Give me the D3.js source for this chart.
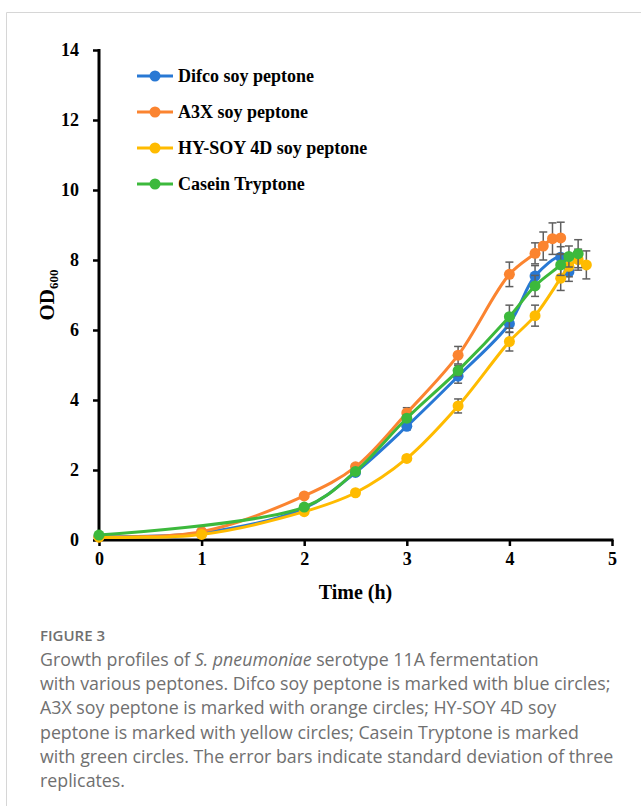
<!DOCTYPE html>
<html>
<head>
<meta charset="utf-8">
<script src="https://cdn.jsdelivr.net/npm/d3@7"></script>
<style>
  body { margin: 0; background: #fff; }
  svg { display: block; }
</style>
</head>
<body>
<div id="svg"></div>
<script>
// series data (OD600 vs time in h, with SD)
var seriesNames = ["Difco soy peptone", "A3X soy peptone", "HY-SOY 4D soy peptone", "Casein Tryptone"];
var seriesColors = ["#2878d4", "#fb8430", "#ffbb00", "#3cb93c"];

var difcoTime = [0, 1, 2, 2.5, 3, 3.5, 4, 4.25, 4.5, 4.58];
var difcoOD   = [0.10, 0.20, 0.91, 1.93, 3.25, 4.68, 6.18, 7.54, 8.08, 7.66];
var difcoSD   = [0.02, 0.03, 0.05, 0.06, 0.10, 0.20, 0.25, 0.30, 0.30, 0.27];

var a3xTime = [0, 1, 2, 2.5, 3, 3.5, 4, 4.25, 4.33, 4.42, 4.5];
var a3xOD   = [0.09, 0.24, 1.26, 2.09, 3.63, 5.28, 7.59, 8.19, 8.40, 8.61, 8.63];
var a3xSD   = [0.02, 0.03, 0.05, 0.08, 0.15, 0.25, 0.35, 0.30, 0.40, 0.45, 0.45];

var hysoyTime = [0, 1, 2, 2.5, 3, 3.5, 4, 4.25, 4.5, 4.58, 4.67, 4.75];
var hysoyOD   = [0.08, 0.16, 0.81, 1.35, 2.33, 3.83, 5.67, 6.41, 7.48, 7.82, 8.01, 7.86];
var hysoySD   = [0.02, 0.03, 0.05, 0.06, 0.08, 0.20, 0.27, 0.30, 0.35, 0.30, 0.30, 0.40];

var caseinTime = [0, 2, 2.5, 3, 3.5, 4, 4.25, 4.5, 4.58, 4.67];
var caseinOD   = [0.14, 0.94, 1.96, 3.48, 4.84, 6.38, 7.26, 7.86, 8.10, 8.18];
var caseinSD   = [0.02, 0.05, 0.06, 0.10, 0.15, 0.33, 0.30, 0.30, 0.30, 0.40];

var xTicks = [0, 1, 2, 3, 4, 5];
var yTicks = [0, 2, 4, 6, 8, 10, 12, 14];

var captionLines = [
  ["Growth profiles of ", "S. pneumoniae", " serotype 11A fermentation"],
  ["with various peptones. Difco soy peptone is marked with blue circles;"],
  ["A3X soy peptone is marked with orange circles; HY-SOY 4D soy"],
  ["peptone is marked with yellow circles; Casein Tryptone is marked"],
  ["with green circles. The error bars indicate standard deviation of three"],
  ["replicates."]
];

function zip(t, v, s) {
  return t.map(function (d, i) { return {t: d, od: v[i], sd: s[i]}; });
}
var allSeries = [
  zip(difcoTime, difcoOD, difcoSD),
  zip(a3xTime, a3xOD, a3xSD),
  zip(hysoyTime, hysoyOD, hysoySD),
  zip(caseinTime, caseinOD, caseinSD)
];

var W = 641, H = 806;
var svg = d3.select("#svg").append("svg")
    .attr("width", W)
    .attr("height", H);

// light frame around the figure
svg.append("path")
  .attr("d", "M6.5," + H + " L6.5,12.5 L" + W + ",12.5")
  .style("fill", "none")
  .style("stroke", "#d6d6d6")
  .style("stroke-width", 1);

var x = d3.scaleLinear().domain([0, 5]).range([99, 612]);
var y = d3.scaleLinear().domain([0, 14]).range([540, 50]);

var serif = "'Liberation Serif', 'Times New Roman', serif";

// X axis
var xAxis = svg.append("g")
  .attr("transform", "translate(0," + y(0) + ")");
xAxis.call(d3.axisBottom(x).tickValues(d3.range(0, 5.01, 0.2)).tickSize(5).tickFormat(""));
xAxis.call(d3.axisBottom(x).tickValues(xTicks).tickSize(6).tickPadding(6).tickFormat(d3.format("d")));
xAxis.selectAll("path.domain").style("stroke-width", 3).attr("d", "M" + (x(0) - 1.5) + ",0H" + (x(5) + 1.5));
xAxis.selectAll(".tick line").style("stroke-width", 2.5);
xAxis.selectAll("text").style("font-family", serif).style("font-weight", "bold").style("font-size", "18px").style("fill", "#000");

// Y axis
var yAxis = svg.append("g")
  .attr("transform", "translate(" + x(0) + ",0)");
yAxis.call(d3.axisLeft(y).tickValues(d3.range(0, 14.01, 0.4)).tickSize(5).tickFormat(""));
yAxis.call(d3.axisLeft(y).tickValues(yTicks).tickSize(6).tickPadding(14).tickFormat(d3.format("d")));
yAxis.selectAll("path.domain").style("stroke-width", 3).attr("d", "M0," + (y(14) - 1) + "V" + (y(0) + 1.5));
yAxis.selectAll(".tick line").style("stroke-width", 2.5);
yAxis.selectAll("text").style("font-family", serif).style("font-weight", "bold").style("font-size", "18px").style("fill", "#000");

// axis titles
svg.append("text")
  .attr("x", (x(0) + x(5)) / 2)
  .attr("y", 599)
  .attr("text-anchor", "middle")
  .style("font-family", serif)
  .style("font-weight", "bold")
  .style("font-size", "20px")
  .text("Time (h)");

var yt = svg.append("text")
  .attr("transform", "translate(54,295) rotate(-90)")
  .attr("text-anchor", "middle")
  .style("font-family", serif)
  .style("font-weight", "bold")
  .style("font-size", "21px");
yt.append("tspan").text("OD");
yt.append("tspan").attr("dy", 4).style("font-size", "13px").text("600");

// error bars, lines, markers
var line = d3.line()
  .x(function (d) { return x(d.t); })
  .y(function (d) { return y(d.od); })
  .curve(d3.curveCatmullRom.alpha(0.5));

allSeries.forEach(function (data, i) {
  var g = svg.append("g");
  var eb = g.selectAll("g.eb").data(data).enter().append("g")
    .style("stroke", "#5f5f5f")
    .style("stroke-width", 1.5);
  eb.append("line")
    .attr("x1", function (d) { return x(d.t); })
    .attr("x2", function (d) { return x(d.t); })
    .attr("y1", function (d) { return y(d.od - d.sd); })
    .attr("y2", function (d) { return y(d.od + d.sd); });
  eb.append("line")
    .attr("x1", function (d) { return x(d.t) - 4; })
    .attr("x2", function (d) { return x(d.t) + 4; })
    .attr("y1", function (d) { return y(d.od + d.sd); })
    .attr("y2", function (d) { return y(d.od + d.sd); });
  eb.append("line")
    .attr("x1", function (d) { return x(d.t) - 4; })
    .attr("x2", function (d) { return x(d.t) + 4; })
    .attr("y1", function (d) { return y(d.od - d.sd); })
    .attr("y2", function (d) { return y(d.od - d.sd); });

  g.append("path")
    .datum(data)
    .attr("d", line)
    .style("fill", "none")
    .style("stroke", seriesColors[i])
    .style("stroke-width", 3);

  g.selectAll("circle").data(data).enter().append("circle")
    .attr("cx", function (d) { return x(d.t); })
    .attr("cy", function (d) { return y(d.od); })
    .attr("r", 5.5)
    .style("fill", seriesColors[i]);
});

// legend
var legend = svg.append("g");
seriesNames.forEach(function (name, i) {
  var ly = 76 + i * 36;
  legend.append("line")
    .attr("x1", 137).attr("x2", 173)
    .attr("y1", ly).attr("y2", ly)
    .style("stroke", seriesColors[i])
    .style("stroke-width", 3);
  legend.append("circle")
    .attr("cx", 155).attr("cy", ly).attr("r", 5.5)
    .style("fill", seriesColors[i]);
  legend.append("text")
    .attr("x", 178).attr("y", ly + 6)
    .style("font-family", serif)
    .style("font-weight", "bold")
    .style("font-size", "18px")
    .text(name);
});

// caption
var sans = "'Open Sans', 'Noto Sans', sans-serif";
svg.append("text")
  .attr("x", 40).attr("y", 641)
  .style("font-family", sans)
  .style("font-weight", 600)
  .style("font-size", "15px")
  .style("fill", "#707070")
  .text("FIGURE 3");

captionLines.forEach(function (parts, i) {
  var t = svg.append("text")
    .attr("x", 40).attr("y", 666 + i * 24.2)
    .style("font-family", sans)
    .style("font-size", "17.8px")
    .style("fill", "#707070");
  parts.forEach(function (p, j) {
    t.append("tspan").text(p).style("font-style", (parts.length > 1 && j === 1) ? "italic" : "normal");
  });
});
</script>
</body>
</html>
